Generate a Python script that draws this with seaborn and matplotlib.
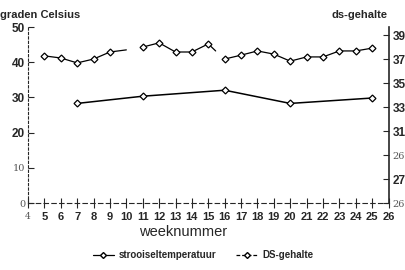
import pandas as pd
import numpy as np
import matplotlib
matplotlib.use('Agg')
import matplotlib.pyplot as plt
import seaborn as sns
from matplotlib.lines import Line2D

# strooiseltemperatuur (graden Celsius), per week; segmenten met onderbrekingen
temp_weeks = [5, 6, 7, 8, 9, 10, 11, 12, 13, 14, 15, 15.45, 16, 17, 18, 19, 20, 21, 22, 23, 24, 25]
temp_values = [41.8, 41.2, 39.8, 40.9, 42.9, 43.5, 44.3, 45.5, 42.9, 42.9, 45.2, 43.2,
               40.9, 42.0, 43.2, 42.3, 40.3, 41.5, 41.5, 43.2, 43.2, 44.0]
temp_segment = [1, 1, 1, 1, 1, 1, 2, 2, 2, 2, 2, 2, 3, 3, 3, 3, 3, 3, 3, 3, 3, 3]
temp_marker = [1, 1, 1, 1, 1, 0, 1, 1, 1, 1, 1, 0, 1, 1, 1, 1, 1, 1, 1, 1, 1, 1]

# DS-gehalte (%)
ds_weeks = [7, 11, 16, 20, 25]
ds_values = [33.3, 33.9, 34.4, 33.3, 33.75]

x_ticks = list(range(4, 27))
left_ticks = [0, 10, 20, 30, 40, 50]
right_ticks = [25, 27, 29, 31, 33, 35, 37, 39]
right_labels = ['26', '27', '26', '31', '33', '35', '37', '39']

sns.set_style('ticks')
plt.rcParams['font.family'] = ['Liberation Sans', 'DejaVu Sans']

temp = pd.DataFrame({'week': temp_weeks, 'temp': temp_values,
                     'seg': temp_segment, 'mark': temp_marker})
ds = pd.DataFrame({'week': ds_weeks, 'ds': ds_values})

fig = plt.figure(figsize=(4.06, 2.70), dpi=100)
ax = fig.add_axes([0.069, 0.248, 0.888, 0.652])
ax2 = ax.twinx()

sns.lineplot(data=temp, x='week', y='temp', units='seg', estimator=None,
             color='black', linewidth=0.9, ax=ax)
mk = temp[temp['mark'] == 1]
ax.plot(mk['week'], mk['temp'], linestyle='none', marker='D', markersize=3.5,
        markerfacecolor='white', markeredgecolor='black', markeredgewidth=0.9)

sns.lineplot(data=ds, x='week', y='ds', color='black', linewidth=1.1, ax=ax2)
ax2.plot(ds['week'], ds['ds'], linestyle='none', marker='D', markersize=3.5,
         markerfacecolor='white', markeredgecolor='black', markeredgewidth=0.9)

ax.set_xlim(4, 26)
ax.set_ylim(0, 50)
ax2.set_ylim(25, 25 + 176 / 12)

ax.set_xticks(x_ticks)
ax.set_xticklabels([str(w) for w in x_ticks])
ax.set_yticks(left_ticks)
ax.set_yticklabels([str(v) for v in left_ticks])
ax2.set_yticks(right_ticks)
ax2.set_yticklabels(right_labels)

ax.set_xlabel('')
ax.set_ylabel('')
ax2.set_xlabel('')
ax2.set_ylabel('')

ax.tick_params(axis='x', direction='inout', length=7, width=0.8, pad=3, labelsize=8)
ax.tick_params(axis='y', direction='in', length=4, width=0.8, pad=2, labelsize=8.5)
ax2.tick_params(axis='y', direction='in', length=4, width=0.8, pad=3, labelsize=8.5)

for lab in ax.get_xticklabels() + ax.get_yticklabels() + ax2.get_yticklabels():
    lab.set_fontweight('bold')
# enkele labels staan in dunne grijze letter in het origineel
ax.get_xticklabels()[0].set(fontweight='normal', family='DejaVu Serif', color='#555555', fontsize=6.5)
for i in [0, 1]:
    ax.get_yticklabels()[i].set(fontweight='normal', family='DejaVu Serif', color='#555555', fontsize=7)
for i in [0, 2]:
    ax2.get_yticklabels()[i].set(fontweight='normal', family='DejaVu Serif', color='#555555', fontsize=7)

for a in (ax, ax2):
    a.spines['top'].set_visible(False)
ax.spines['right'].set_visible(False)
ax2.spines['left'].set_visible(False)
ax2.spines['bottom'].set_visible(False)
ax.spines['left'].set_linestyle((0, (2, 2)))
ax.spines['left'].set_linewidth(0.8)
ax.spines['bottom'].set_linestyle((0, (4, 3)))
ax.spines['bottom'].set_linewidth(0.8)
ax2.spines['right'].set_linewidth(1.2)

fig.text(0.0, 0.925, 'graden Celsius', fontsize=8, fontweight='bold', ha='left', va='bottom')
fig.text(0.955, 0.925, 'ds-gehalte', fontsize=8, fontweight='bold', ha='right', va='bottom')
fig.text(0.45, 0.14, 'weeknummer', fontsize=10.5, ha='center', va='center')

handles = [
    Line2D([0], [0], color='black', linewidth=0.9, marker='D', markersize=3,
           markerfacecolor='white', markeredgecolor='black'),
    Line2D([0], [0], color='black', linewidth=0.9, linestyle=(0, (3, 1.5)), marker='D', markersize=3,
           markerfacecolor='white', markeredgecolor='black'),
]
leg = fig.legend(handles, ['strooiseltemperatuur', 'DS-gehalte'], loc='center',
                 bbox_to_anchor=(0.5, 0.055), ncol=2, frameon=False,
                 handlelength=2.2, handletextpad=0.5, columnspacing=2.0,
                 prop={'weight': 'bold', 'size': 7})

fig.savefig('out.png', dpi=100)
